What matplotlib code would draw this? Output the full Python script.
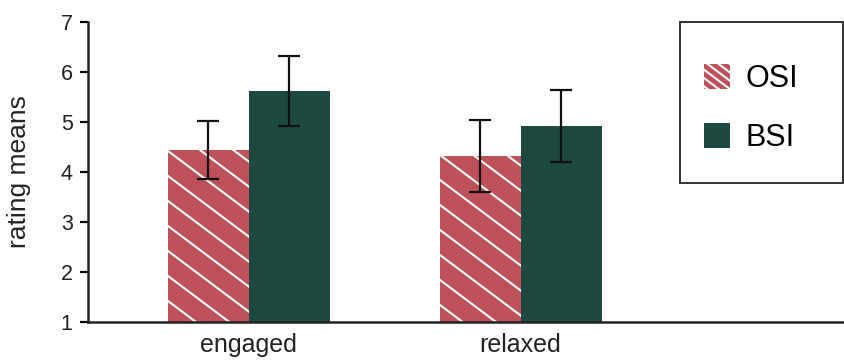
import matplotlib
matplotlib.use("Agg")
import matplotlib.pyplot as plt
import matplotlib.hatch as mhatch
from matplotlib.path import Path
import numpy as np
from matplotlib.patches import Patch, Rectangle

plt.rcParams['font.family'] = ['Liberation Sans', 'DejaVu Sans']
plt.rcParams['hatch.linewidth'] = 1.5


class ShallowBackslashHatch(mhatch.HatchPatternBase):
    """Backslash hatch with a shallower slope (the reference image is stretched)."""
    def __init__(self, hatch, density):
        self.n = hatch.count('\\')
        self.num_lines = 8 * self.n
        self.num_vertices = 2 * self.num_lines

    def set_vertices_and_codes(self, vertices, codes):
        s = 0.25 / self.n
        cs = np.arange(self.num_lines) * s
        vertices[0::2, 0] = 0.0
        vertices[0::2, 1] = cs
        vertices[1::2, 0] = 1.0
        vertices[1::2, 1] = cs - 0.75
        codes[0::2] = Path.MOVETO
        codes[1::2] = Path.LINETO


def _handles_backslash(t):
    try:
        return t('\\', 6).num_vertices > 0
    except Exception:
        return False


mhatch._hatch_types = [ShallowBackslashHatch if _handles_backslash(t) else t
                       for t in mhatch._hatch_types]

categories = ["engaged", "relaxed"]
series_names = ["OSI", "BSI"]
osi_means = [4.44, 4.32]
osi_err = [0.58, 0.72]
bsi_means = [5.62, 4.93]
bsi_err = [0.70, 0.72]
yticks = [1, 2, 3, 4, 5, 6, 7]

red = "#bd5157"
green = "#1d4a40"

fig = plt.figure(figsize=(8.44, 3.63), dpi=100)
ax = fig.add_axes([88/844, 1-322/363, 1-88/844, 300/363])

x = np.arange(len(categories))
w = 0.298
ax.bar(x - w/2, np.array(osi_means) - 1, w, bottom=1, color=red, edgecolor="white",
       linewidth=0, hatch="\\", label=series_names[0])
ax.bar(x + w/2, np.array(bsi_means) - 1, w, bottom=1, color=green, linewidth=0,
       label=series_names[1])
ax.errorbar(x - w/2, osi_means, yerr=osi_err, fmt="none", ecolor="#111111",
            elinewidth=1.6, capsize=8, capthick=1.6)
ax.errorbar(x + w/2, bsi_means, yerr=bsi_err, fmt="none", ecolor="#111111",
            elinewidth=1.6, capsize=8, capthick=1.6)

ax.set_ylim(1, 7)
ax.set_xlim(-0.592, 2.19)
ax.set_yticks(yticks)
ax.set_xticks(x)
ax.set_xticklabels(categories, fontsize=18, color="#222222")
ax.tick_params(axis="x", length=0, pad=8)
ax.tick_params(axis="y", length=6, width=1.6, labelsize=15.5, pad=5, labelcolor="#222222")
for s in ["top", "right"]:
    ax.spines[s].set_visible(False)
for s in ["left", "bottom"]:
    ax.spines[s].set_linewidth(1.8)
    ax.spines[s].set_color("#222222")
ax.set_ylabel("rating means", fontsize=19, color="#222222")
ax.yaxis.set_label_coords((31 - 88) / 756, 0.5)

# legend frame
frame = Rectangle((680/844, 1-183/363), 163/844, 161/363, transform=fig.transFigure,
                  fill=False, edgecolor="#333333", linewidth=1.4)
fig.patches.append(frame)
handles = [Patch(facecolor=red, edgecolor="white", linewidth=0, hatch="\\\\\\"),
           Patch(facecolor=green, linewidth=0)]
fig.legend(handles, series_names, loc="upper left", bbox_to_anchor=(704/844, 1-64/363),
           frameon=False, fontsize=22, handlelength=0.85, handleheight=0.85,
           handletextpad=0.5, labelspacing=0.95, borderpad=0, borderaxespad=0)

fig.savefig("out.png", dpi=100)
